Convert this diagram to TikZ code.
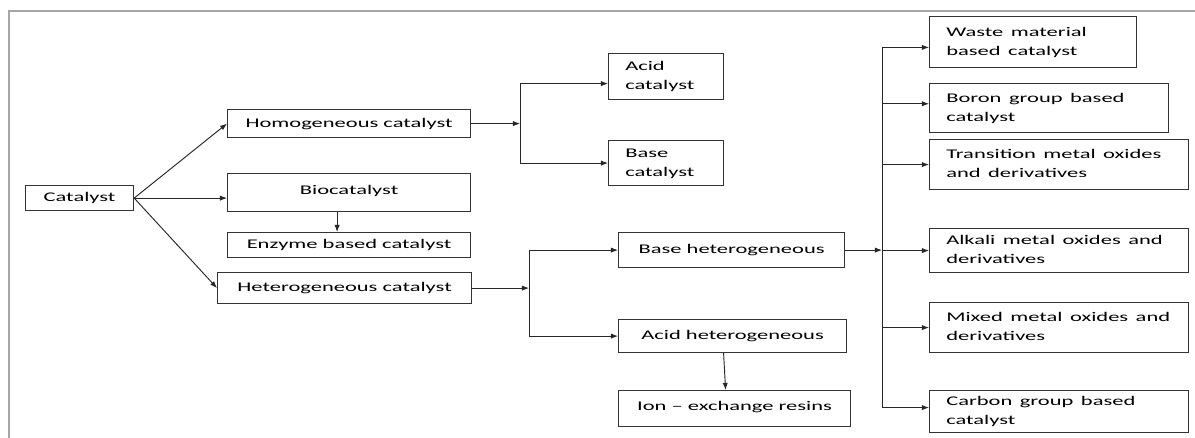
\documentclass[tikz,border=0pt]{standalone}
\usepackage{fontspec}
\usepackage{graphicx}
\setmainfont{Carlito}
\newcommand{\wtext}[1]{\scalebox{1.7}[1]{\begin{tabular}{@{}l@{}}#1\end{tabular}}}
\usetikzlibrary{arrows.meta}

\begin{document}
\begin{tikzpicture}[x=0.03cm, y=-0.03cm, >={Latex[length=6pt,width=4.5pt]},
	font=\fontsize{11.3pt}{16.2pt}\selectfont,
	box/.style={draw=black!80, line width=1pt, anchor=north west, inner sep=0pt, align=center},
	twoline/.style={box, align=left, inner xsep=0.5cm},
	link/.style={->, line width=0.8pt, black!85}]
	
	% 1. Page size and the outer frame
	\useasboundingbox (0,0) rectangle (1195,437);
	\draw[gray!70, line width=1.6pt] (9,460) |- (1230,11);
	
	% 2. x positions of the three brackets
	\def\xhomo{520} % bracket after homogeneous
	\def\xhet{529}  % bracket after heterogeneous
	\def\xbase{882} % bracket after base heterogeneous
	
	% 3. Left part
	\node[box, minimum width=3.24cm, minimum height=0.75cm] (cat) at (25,185) {\wtext{Catalyst}};
	\node[box, minimum width=7.29cm, minimum height=0.84cm] (homo) at (227,109) {\wtext{Homogeneous catalyst}};
	\node[box, minimum width=7.29cm, minimum height=1.14cm, text depth=0.3cm] (bio) at (227,173) {\wtext{Biocatalyst}};
	\node[box, minimum width=7.29cm, minimum height=0.75cm] (enz) at (227,232) {\wtext{Enzyme based catalyst}};
	\node[box, minimum width=7.62cm, minimum height=0.93cm] (het) at (217,272) {\wtext{Heterogeneous catalyst}};
	
	% 4. Middle part
	\node[twoline, text width=2.45cm, minimum width=3.45cm, minimum height=1.38cm] (acidc) at (608,53) {\wtext{Acid\\catalyst}};
	\node[twoline, text width=2.45cm, minimum width=3.45cm, minimum height=1.35cm] (basec) at (608,140) {\wtext{Base\\catalyst}};
	\node[box, minimum width=6.78cm, minimum height=1.05cm] (baseh) at (618,232) {\wtext{Base heterogeneous}};
	\node[box, minimum width=6.84cm, minimum height=0.99cm] (acidh) at (618,319) {\wtext{Acid heterogeneous}};
	\node[box, minimum width=6.96cm, minimum height=1.08cm, text depth=0.3cm] (ion) at (618,390) {\wtext{Ion -- exchange resins}};
	
	% 5. Right part
	\node[twoline, text width=5.21cm, minimum width=6.21cm, minimum height=1.53cm] (waste) at (929,16) {\wtext{Waste material\\based catalyst}};
	\node[twoline, text width=6.17cm, minimum width=7.17cm, minimum height=1.47cm] (boron) at (929,83) {\wtext{Boron group based\\catalyst}};
	\node[twoline, text width=6.77cm, minimum width=7.77cm, minimum height=1.5cm] (trans) at (929,139) {\wtext{Transition metal oxides\\and derivatives}};
	\node[twoline, text width=6.77cm, minimum width=7.77cm, minimum height=1.32cm] (alkali) at (929,228) {\wtext{Alkali metal oxides and\\derivatives}};
	\node[twoline, text width=6.77cm, minimum width=7.77cm, minimum height=1.5cm] (mixed) at (929,302) {\wtext{Mixed metal oxides and\\derivatives}};
	\node[twoline, text width=6.77cm, minimum width=7.77cm, minimum height=1.26cm] (carbon) at (929,390) {\wtext{Carbon group based\\catalyst}};
	
	% 6. Junction points
	\coordinate (hj) at (homo.east -| \xhomo,0);
	\coordinate (tj) at (het.east -| \xhet,0);
	\coordinate (bj) at (baseh.east -| \xbase,0);
	
	% 7. Arrows from the catalyst
	\draw[link] (cat.east) -- (homo.west);
	\draw[link] (cat.east) -- (cat.east -| bio.west);
	\draw[link] (cat.east) -- (het.west);
	\draw[link] ([xshift=-0.36cm]bio.south) -- ([xshift=-0.36cm]enz.north);
	
	% 8. Homogeneous branch
	\draw[link] (homo.east) -- (hj);
	\draw[link] (hj) |- ([yshift=-0.21cm]acidc.west);
	\draw[link] (hj) |- (basec.west);
	
	% 9. Heterogeneous branch
	\draw[link] (het.east) -- (tj);
	\draw[link] (tj) |- (baseh.west);
	\draw[link] (tj) |- (acidh.west);
	\draw[link] ([xshift=-0.27cm]acidh.south) -- ([xshift=-0.27cm]ion.north);
	
	% 10. Base heterogeneous branch
	\draw[link] (baseh.east) -- (bj);
	\foreach \n/\s in {waste/-0.16, boron/0.13, trans/0, alkali/0, mixed/0, carbon/0.12}
	\draw[link] (bj) |- ([yshift=\s cm]\n.west);
	
\end{tikzpicture}
\end{document}
